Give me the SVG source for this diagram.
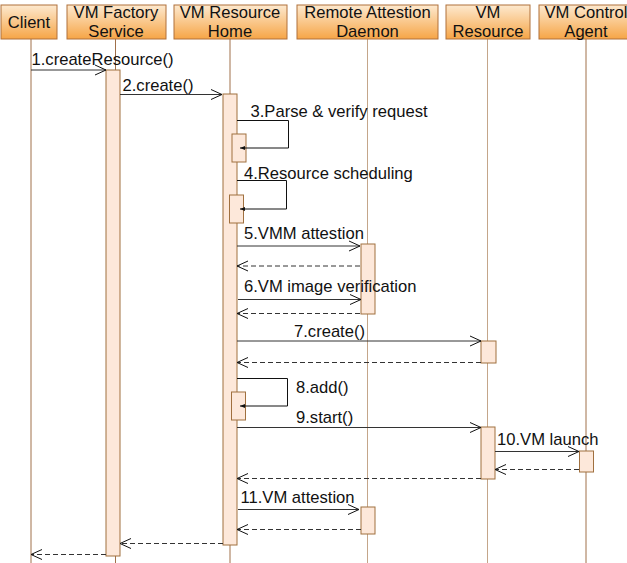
<svg xmlns="http://www.w3.org/2000/svg" width="627" height="563" viewBox="0 0 627 563">
  <defs>
    <linearGradient id="hdr" x1="0" y1="0" x2="0" y2="1">
      <stop offset="0" stop-color="#fde9cf"/>
      <stop offset="1" stop-color="#f6a546"/>
    </linearGradient>
    <marker id="open" markerWidth="12" markerHeight="12" refX="11" refY="6" orient="auto" markerUnits="userSpaceOnUse">
      <path d="M0,1 L11,6 L0,11" fill="none" stroke="#111" stroke-width="1"/>
    </marker>
    <marker id="tiny" markerWidth="6" markerHeight="6" refX="5" refY="3" orient="auto" markerUnits="userSpaceOnUse">
      <path d="M0,1 L5,3 L0,5 Z" fill="#111"/>
    </marker>
  </defs>
  <style>
    .hdr { fill: url(#hdr); stroke: #b0703a; stroke-width: 1; }
    .life { stroke: #a0704a; stroke-width: 1; }
    .life2 { stroke: #c4a68a; stroke-width: 1; }
    .act { fill: #fde8da; stroke: #a0703f; stroke-width: 1; }
    .msg { stroke: #333; stroke-width: 1; fill: none; marker-end: url(#open); }
    .ret { stroke: #333; stroke-width: 1; fill: none; stroke-dasharray: 5 3; marker-end: url(#open); }
    .self { stroke: #111; stroke-width: 1; fill: none; marker-end: url(#tiny); }
    text { font-family: "Liberation Sans", Arial, sans-serif; font-size: 16.6px; fill: #111; }
    .c { text-anchor: middle; }
  </style>

  <!-- lifelines -->
  <g id="lifelines">
    <line class="life" x1="31" y1="39" x2="31" y2="563"/>
    <line class="life" x1="115.5" y1="39" x2="115.5" y2="563"/>
    <line class="life" x1="230" y1="39" x2="230" y2="563"/>
    <line class="life2" x1="367.5" y1="39" x2="367.5" y2="563"/>
    <line class="life2" x1="487.5" y1="39" x2="487.5" y2="563"/>
    <line class="life" x1="586" y1="39" x2="586" y2="563"/>
  </g>

  <!-- participants -->
  <g id="client">
    <rect class="hdr" x="1" y="5" width="56" height="34"/>
    <text class="c" x="29" y="28">Client</text>
  </g>
  <g id="vm-factory-service">
    <rect class="hdr" x="67" y="5" width="99" height="34"/>
    <text class="c" x="116" y="18">VM Factory</text>
    <text class="c" x="116" y="37">Service</text>
  </g>
  <g id="vm-resource-home">
    <rect class="hdr" x="174" y="5" width="113" height="34"/>
    <text class="c" x="230" y="18">VM Resource</text>
    <text class="c" x="230" y="37">Home</text>
  </g>
  <g id="remote-attestion-daemon">
    <rect class="hdr" x="297" y="5" width="141" height="34"/>
    <text class="c" x="367.5" y="18">Remote Attestion</text>
    <text class="c" x="367.5" y="37">Daemon</text>
  </g>
  <g id="vm-resource">
    <rect class="hdr" x="446" y="5" width="84" height="34"/>
    <text class="c" x="488" y="18">VM</text>
    <text class="c" x="488" y="37">Resource</text>
  </g>
  <g id="vm-control-agent">
    <rect class="hdr" x="539" y="5" width="92" height="34"/>
    <text class="c" x="586" y="18">VM Control</text>
    <text class="c" x="586" y="37">Agent</text>
  </g>

  <!-- activation bars -->
  <g id="activations">
    <rect class="act" x="106" y="70" width="14" height="486"/>
    <rect class="act" x="223" y="94" width="14" height="451"/>
    <rect class="act" x="232" y="134" width="14" height="28"/>
    <rect class="act" x="229.5" y="195" width="14" height="28"/>
    <rect class="act" x="361" y="244" width="14" height="70"/>
    <rect class="act" x="481" y="341" width="15" height="22"/>
    <rect class="act" x="231.5" y="392" width="14" height="28"/>
    <rect class="act" x="481" y="427" width="14" height="52"/>
    <rect class="act" x="579.5" y="451" width="14" height="21"/>
    <rect class="act" x="361" y="507" width="14" height="27"/>
  </g>

  <!-- messages -->
  <g id="connectors">
    <line class="msg" x1="31" y1="70" x2="106" y2="70"/>
    <line class="msg" x1="120" y1="94.5" x2="222" y2="94.5"/>
    <polyline class="self" points="237,120.5 288.5,120.5 288.5,148 240,148"/>
    <polyline class="self" points="237,180.5 286.5,180.5 286.5,209 240,209"/>
    <line class="msg" x1="237" y1="246" x2="360" y2="246"/>
    <line class="ret" x1="360" y1="266" x2="237" y2="266"/>
    <line class="msg" x1="238" y1="299.5" x2="361" y2="299.5"/>
    <line class="ret" x1="360" y1="313.5" x2="237" y2="313.5"/>
    <line class="msg" x1="237" y1="341" x2="481" y2="341"/>
    <line class="ret" x1="481" y1="362.5" x2="237" y2="362.5"/>
    <polyline class="self" points="237,378.5 287.5,378.5 287.5,406 240,406"/>
    <line class="msg" x1="237" y1="427.5" x2="481" y2="427.5"/>
    <line class="msg" x1="495" y1="451.5" x2="579" y2="451.5"/>
    <line class="ret" x1="579" y1="469.5" x2="495" y2="469.5"/>
    <line class="ret" x1="481" y1="478.5" x2="237" y2="478.5"/>
    <line class="msg" x1="238" y1="509.5" x2="359" y2="509.5"/>
    <line class="ret" x1="361" y1="529.5" x2="237" y2="529.5"/>
    <line class="ret" x1="223" y1="543.5" x2="120" y2="543.5"/>
    <line class="ret" x1="106" y1="554.5" x2="31" y2="554.5"/>
  </g>

  <!-- message labels -->
  <g id="labels">
    <text x="31.5" y="65">1.createResource()</text>
    <text x="122.5" y="90.5">2.create()</text>
    <text x="250.5" y="116.5">3.Parse &amp; verify request</text>
    <text x="244" y="179">4.Resource scheduling</text>
    <text x="244" y="239">5.VMM attestion</text>
    <text x="244" y="291.5">6.VM image verification</text>
    <text x="294" y="336.5">7.create()</text>
    <text x="296" y="392.5">8.add()</text>
    <text x="296" y="423">9.start()</text>
    <text x="497" y="445">10.VM launch</text>
    <text x="240.5" y="502.5">11.VM attestion</text>
  </g>
</svg>
